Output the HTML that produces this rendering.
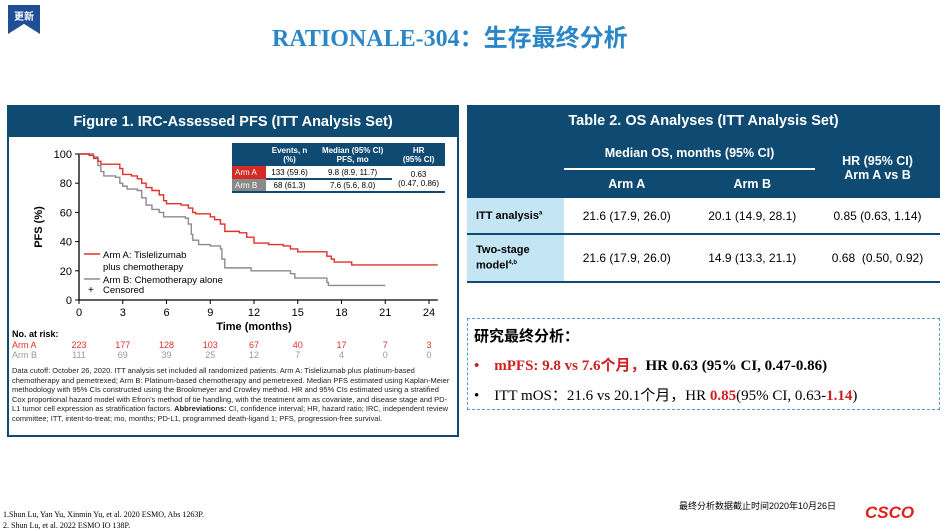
<!DOCTYPE html>
<html><head><meta charset="utf-8">
<style>
*{margin:0;padding:0;box-sizing:border-box}
body{width:951px;height:531px;background:#fff;position:relative;overflow:hidden;font-family:"Liberation Sans","Noto Sans CJK SC",sans-serif}
.abs{position:absolute}
table{border-collapse:collapse}
</style></head><body>
<div class="abs" style="left:8px;top:5px;width:32px;height:29px;background:#1f4e96;clip-path:polygon(0 0,100% 0,100% 100%,50% 65%,0 100%);color:#fff;font-size:10px;font-weight:bold;text-align:center;padding-top:3px">更新</div>
<div class="abs" style="left:272px;top:18px;font-size:24px;font-weight:bold;color:#2a86c6;font-family:'Liberation Serif','Noto Sans CJK SC',serif;white-space:nowrap">RATIONALE-304：<span style="font-family:'Noto Sans CJK SC',sans-serif">生存最终分析</span></div>

<div class="abs" style="left:7px;top:105px;width:452px;height:332px;border:2px solid #0f4a73;background:#fff">
<div style="background:#0f4a73;color:#fff;height:30px;line-height:30px;text-align:center;font-weight:bold;font-size:14.5px">Figure 1. IRC-Assessed PFS (ITT Analysis Set)</div>
</div>
<svg class="abs" style="left:0;top:0" width="951" height="531" id="km"></svg>

<table class="abs" style="left:232px;top:143px;width:213px;font-size:8px;text-align:center">
<tr style="background:#0f4a73;color:#fff;font-weight:bold;height:23px"><td style="width:34px"></td><td>Events, n<br>(%)</td><td>Median (95% CI)<br>PFS, mo</td><td>HR<br>(95% CI)</td></tr>
<tr style="height:13px"><td style="background:#d42b25;color:#fff;text-align:left;padding-left:3px">Arm A</td><td style="border-bottom:2px solid #0f4a73">133 (59.6)</td><td style="border-bottom:2px solid #0f4a73">9.8 (8.9, 11.7)</td><td rowspan="2" style="border-bottom:2px solid #0f4a73">0.63<br>(0.47, 0.86)</td></tr>
<tr style="height:13px;border-bottom:2px solid #0f4a73"><td style="background:#8a8a8a;color:#fff;text-align:left;padding-left:3px">Arm B</td><td>68 (61.3)</td><td>7.6 (5.6, 8.0)</td></tr>
</table>

<div class="abs" style="left:12px;top:329px;font-size:9px;font-weight:bold">No. at risk:</div>
<div class="abs" style="left:12px;top:366px;width:442px;font-size:7.5px;line-height:9.6px;color:#222">Data cutoff: October 26, 2020. ITT analysis set included all randomized patients. Arm A: Tislelizumab plus platinum-based chemotherapy and pemetrexed; Arm B: Platinum-based chemotherapy and pemetrexed. Median PFS estimated using Kaplan-Meier methodology with 95% CIs constructed using the Brookmeyer and Crowley method. HR and 95% CIs estimated using a stratified Cox proportional hazard model with Efron’s method of tie handling, with the treatment arm as covariate, and disease stage and PD-L1 tumor cell expression as stratification factors. <b>Abbreviations:</b> CI, confidence interval; HR, hazard ratio; IRC, independent review committee; ITT, intent-to-treat; mo, months; PD-L1, programmed death-ligand 1; PFS, progression-free survival.</div>

<table class="abs" style="left:467px;top:105px;width:473px;font-size:12px;text-align:center">
<tr style="background:#0f4a73;color:#fff;height:32px;font-weight:bold;font-size:14.5px"><td colspan="4">Table 2. OS Analyses (ITT Analysis Set)</td></tr>
<tr style="background:#0f4a73;color:#fff;height:32px;font-weight:bold;font-size:12.5px"><td style="width:97px"></td><td colspan="2" style="border-bottom:2px solid #fff">Median OS, months (95% CI)</td><td rowspan="2" style="width:125px">HR (95% CI)<br>Arm A vs B</td></tr>
<tr style="background:#0f4a73;color:#fff;height:29px;font-weight:bold;font-size:12.5px"><td></td><td>Arm A</td><td>Arm B</td></tr>
<tr style="height:36px;border-bottom:2px solid #0f4a73"><td style="background:#c3e5f4;text-align:left;padding-left:9px;font-weight:bold;font-size:11px">ITT analysis<sup style="font-size:6px">a</sup></td><td>21.6 (17.9, 26.0)</td><td>20.1 (14.9, 28.1)</td><td>0.85 (0.63, 1.14)</td></tr>
<tr style="height:48px;border-bottom:2px solid #0f4a73"><td style="background:#c3e5f4;text-align:left;padding-left:9px;font-weight:bold;font-size:11px;line-height:13px">Two-stage<br>model<sup style="font-size:6px">4,b</sup></td><td>21.6 (17.9, 26.0)</td><td>14.9 (13.3, 21.1)</td><td>0.68 &nbsp;(0.50, 0.92)</td></tr>
</table>

<div class="abs" style="left:467px;top:318px;width:473px;height:92px;border:1.5px dashed #5a9bc9">
<div style="position:absolute;left:6px;top:6px;font-size:15px;font-weight:bold">研究最终分析：</div>
<div style="position:absolute;left:6px;top:35px;font-size:15px;font-weight:bold;font-family:'Liberation Serif','Noto Sans CJK SC',serif;white-space:nowrap"><span style="color:#d01f1f">•&nbsp;&nbsp;&nbsp; mPFS: 9.8 vs 7.6个月，</span>HR 0.63 (95% CI, 0.47-0.86)</div>
<div style="position:absolute;left:6px;top:65px;font-size:15px;font-family:'Liberation Serif','Noto Sans CJK SC',serif;white-space:nowrap">•&nbsp;&nbsp;&nbsp; ITT mOS：21.6 vs 20.1个月，HR <b style="color:#d01f1f">0.85</b>(95% CI, 0.63-<b style="color:#d01f1f">1.14</b>)</div>
</div>

<div class="abs" style="left:3px;top:509px;font-size:8px;line-height:11px;font-family:'Liberation Serif',serif">1.Shun Lu, Yan Yu, Xinmin Yu, et al. 2020 ESMO, Abs 1263P.<br>2. Shun Lu, et al. 2022 ESMO IO 138P.</div>
<div class="abs" style="left:679px;top:499px;font-size:9px">最终分析数据截止时间2020年10月26日</div>
<div class="abs" style="left:865px;top:503px;font-size:17px;font-weight:bold;font-style:italic;color:#e0221c">CSCO</div>

<script>
const xTicks=[0,3,6,9,12,15,18,21,24];
const yTicks=[0,20,40,60,80,100];
const armATime=[0,0.7,1,1.3,1.5,2.5,2.8,3,3.6,4,4.3,4.6,5,5.5,5.8,6,7,7.5,7.8,8,9,9.3,9.7,10,11,11.5,12,13,14,14.5,15,17,17.3,17.5,18.7,24.6];
const armASurv=[100,99,97,95,93,93,90,86,85,83,80,77,75,72,68,66,65,63,60,59,57,55,52,47,46,43,39,38,37,35,33,30,28,26,24,24];
const armBTime=[0,1,1.3,1.5,1.7,2.5,2.8,3,3.3,4,4.3,4.6,5,5.5,5.8,7.3,7.5,7.7,7.8,8.2,9,9.7,9.8,10,11.8,14.5,14.8,16.5,17,17.1,21];
const armBSurv=[100,98,92,88,85,84,80,78,76,75,70,65,62,60,57,56,52,45,41,38,37,35,28,22,20,18,15,15,12,10,10];
const riskA=[223,177,128,103,67,40,17,7,3];
const riskB=[111,69,39,25,12,7,4,0,0];
const X=t=>79+t*(350/24), Y=v=>300-v*1.46;
const svg=document.getElementById('km'),NS='http://www.w3.org/2000/svg';
function mk(tag,at,txt){const e=document.createElementNS(NS,tag);for(const k in at)e.setAttribute(k,at[k]);if(txt!==undefined)e.textContent=txt;svg.appendChild(e);return e;}
let e=mk('line',{x1:79,y1:Y(0),x2:79,y2:Y(100),stroke:'#000','stroke-width':1.3});


e=mk('line',{x1:79,y1:300,x2:X(24.6),y2:300,stroke:'#000','stroke-width':1.3});


yTicks.forEach(v=>{mk('line',{x1:75,x2:79,y1:Y(v),y2:Y(v),stroke:'#000'});
e=mk('text',{x:72,y:Y(v)+4,'text-anchor':'end','font-size':11,'font-family':'Liberation Sans'},v);

});
xTicks.forEach((t,i)=>{mk('line',{x1:X(t),x2:X(t),y1:300,y2:304,stroke:'#000'});
e=mk('text',{x:X(t),y:316,'text-anchor':'middle','font-size':11,'font-family':'Liberation Sans'},t);


e=mk('text',{x:X(t),y:348,'text-anchor':'middle','font-size':9,fill:'#e0302a','font-family':'Liberation Sans'},riskA[i]);


e=mk('text',{x:X(t),y:358,'text-anchor':'middle','font-size':9,fill:'#999','font-family':'Liberation Sans'},riskB[i]);

});
e=mk('text',{x:12,y:348,'font-size':9,fill:'#e0302a','font-family':'Liberation Sans'},'Arm A');


e=mk('text',{x:12,y:358,'font-size':9,fill:'#999','font-family':'Liberation Sans'},'Arm B');


e=mk('text',{x:254,y:330,'text-anchor':'middle','font-size':11,'font-weight':'bold','font-family':'Liberation Sans'},'Time (months)');


e=mk('text',{x:0,y:0,'text-anchor':'middle','font-size':11,'font-weight':'bold','font-family':'Liberation Sans',transform:'translate(42,'+Y(50)+') rotate(-90)'},'PFS (%)');


function step(ts,vs){let d='M'+X(ts[0])+','+Y(vs[0]);for(let i=1;i<ts.length;i++){d+='H'+X(ts[i])+'V'+Y(vs[i]);}return d;}
e=mk('path',{d:step(armBTime,armBSurv),fill:'none',stroke:'#8c8c8c','stroke-width':1.4});


e=mk('path',{d:step(armATime,armASurv),fill:'none',stroke:'#e0302a','stroke-width':1.4});


const lg=[[254,'#e0302a','Arm A: Tislelizumab'],[279,'#8c8c8c','Arm B: Chemotherapy alone']];
lg.forEach(l=>{mk('line',{x1:84,x2:100,y1:l[0],y2:l[0],stroke:l[1],'stroke-width':1.5});
e=mk('text',{x:103,y:l[0]+4,'font-size':9.5,'font-family':'Liberation Sans'},l[2]);

});
mk('text',{x:103,y:270,'font-size':9.5,'font-family':'Liberation Sans'},'plus chemotherapy');
mk('text',{x:88,y:293,'font-size':10,'font-family':'Liberation Sans'},'+');
e=mk('text',{x:103,y:293,'font-size':9.5,'font-family':'Liberation Sans'},'Censored');


</script>
</body></html>
